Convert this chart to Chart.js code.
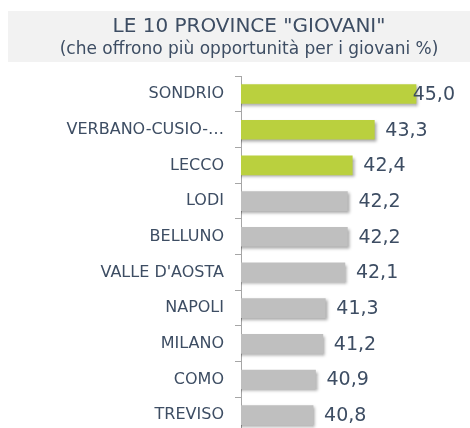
<!DOCTYPE html>
<html><head><meta charset="utf-8">
<script src="https://cdn.jsdelivr.net/npm/chart.js@4/dist/chart.umd.min.js"></script>
<style>html,body{margin:0;padding:0;background:#fff;overflow:hidden}#wrap{width:470px;height:428px;position:relative;overflow:hidden}</style>
</head><body><div id="wrap"><canvas id="c" width="470" height="433"></canvas></div>
<script>
const categories = ["SONDRIO","VERBANO-CUSIO-…","LECCO","LODI","BELLUNO","VALLE D'AOSTA","NAPOLI","MILANO","COMO","TREVISO"];
const values = [45.0,43.3,42.4,42.2,42.2,42.1,41.3,41.2,40.9,40.8];
const highlighted = [true,true,true,false,false,false,false,false,false,false];
const titleText = 'LE 10 PROVINCE "GIOVANI"';
const subtitleText = '(che offrono più opportunità per i giovani %)';

const FONT = "'DejaVu Sans', sans-serif";
const TXT = '#3d4d63';
const GREEN = '#bad03e', GREY = '#bfbfbf';

const bgPlugin = {
  id:'bg',
  beforeDraw(chart){
    const c = chart.ctx; c.save(); c.fillStyle='#f2f2f2'; c.fillRect(8,11,470-8,51); c.restore();
  }
};
const shadowPlugin = {
  id:'shadow',
  beforeDatasetDraw(chart){
    const c = chart.ctx; c.save();
    c.shadowColor='rgba(0,0,0,0.35)'; c.shadowOffsetX=2; c.shadowOffsetY=2; c.shadowBlur=3;
  },
  afterDatasetDraw(chart){ chart.ctx.restore(); }
};
const valuePlugin = {
  id:'vals',
  afterDatasetsDraw(chart){
    const c = chart.ctx; const meta = chart.getDatasetMeta(0); const ca = chart.chartArea;
    c.save(); c.font = '19px '+FONT; c.fillStyle = TXT; c.textBaseline='middle'; c.textAlign='left';
    meta.data.forEach((bar,i)=>{
      const t = values[i].toFixed(1).replace('.',',');
      const w = c.measureText(t).width;
      let x = bar.x + 11;
      if (x + w > ca.right) x = ca.right - w;
      c.fillText(t, x, bar.y + 1);
    });
    c.restore();
  }
};

new Chart(document.getElementById('c'), {
  type:'bar',
  data:{ labels:categories, datasets:[{ data:values,
    backgroundColor: highlighted.map(h=>h?GREEN:GREY), borderWidth:0, barThickness:19 }]},
  options:{
    indexAxis:'y', responsive:false, maintainAspectRatio:false, animation:false, devicePixelRatio:1,
    layout:{ padding:{ left:43, right:15, top:0, bottom:0 } },
    plugins:{
      legend:{display:false}, tooltip:{enabled:false},
      title:{ display:true, text:titleText, color:TXT, font:{family:FONT,size:20,weight:'normal',lineHeight:1.2}, padding:{top:15,bottom:0} },
      subtitle:{ display:true, text:subtitleText, color:TXT, font:{family:FONT,size:17,weight:'normal',lineHeight:1.2}, padding:{top:0,bottom:16.8} }
    },
    scales:{
      x:{ display:false, min:37.86, max:46.59 },
      y:{ offset:true,
        afterFit(s){ s.width = 198; s.paddingTop = 0; s.paddingBottom = 0; },
        ticks:{ color:TXT, font:{family:FONT,size:16}, padding:11 },
        grid:{ offset:true, drawOnChartArea:false, tickLength:6, color:'#a6a6a6' },
        border:{ display:true, color:'#a6a6a6', width:1 }
      }
    }
  },
  plugins:[bgPlugin, shadowPlugin, valuePlugin]
});
</script></body></html>
